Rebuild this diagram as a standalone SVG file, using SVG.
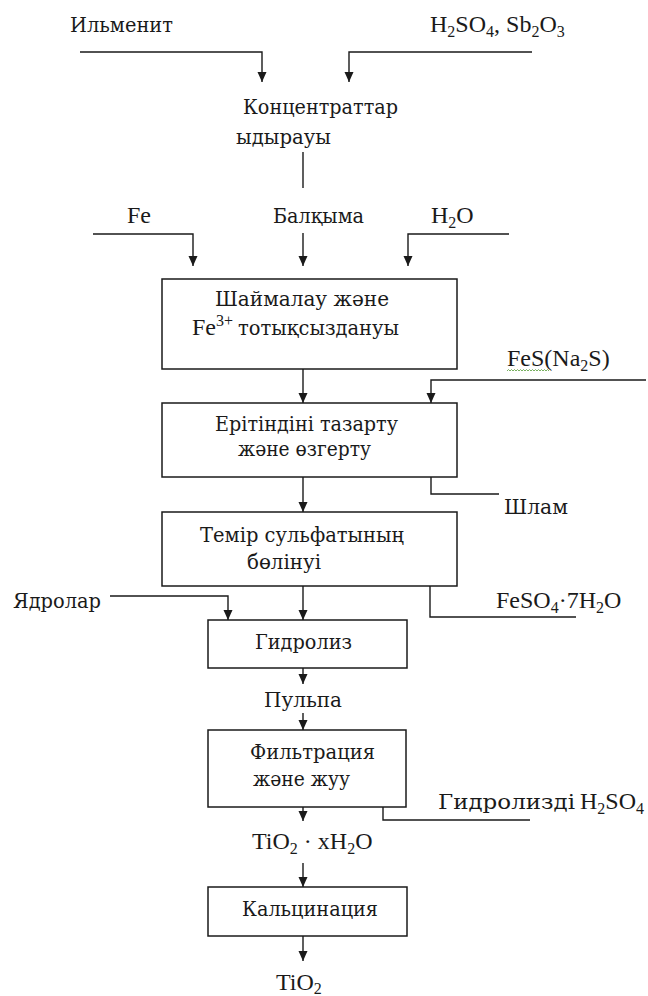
<svg xmlns="http://www.w3.org/2000/svg" width="648" height="996" viewBox="0 0 648 996">
<defs>
<marker id="ah" markerUnits="userSpaceOnUse" markerWidth="10" markerHeight="10" refX="10" refY="4.5" orient="auto">
<path d="M0,0 L10,4.5 L0,9 z" fill="#1a1a1a"/>
</marker>
<style>
text{font-family:"Liberation Serif","Times New Roman",serif;font-size:24px;fill:#1a1a1a}
text.cy{font-family:"DejaVu Serif","Liberation Serif",serif;font-size:21px}
.s{font-size:16px}
.box{fill:#fff;stroke:#1a1a1a;stroke-width:1.5}
.c{fill:none;stroke:#1a1a1a;stroke-width:1.4}
.a{marker-end:url(#ah)}
</style>
</defs>
<rect width="648" height="996" fill="#fff"/>
<g id="connectors">
<path class="c a" d="M80,52 H262 V82"/>
<path class="c a" d="M532,52 H349 V82"/>
<path class="c" d="M303,152 V188"/>
<path class="c a" d="M93,234 H193 V266"/>
<path class="c a" d="M303,233 V266"/>
<path class="c a" d="M509,234 H408 V266"/>
<path class="c a" d="M303,369 V403"/>
<path class="c a" d="M646,380 H431 V403"/>
<path class="c" d="M431,477 V494 H499"/>
<path class="c a" d="M303,477 V512"/>
<path class="c a" d="M303,586 V620"/>
<path class="c a" d="M110,596 H228 V620"/>
<path class="c" d="M430,586 V617 H576"/>
<path class="c a" d="M303,668 V684"/>
<path class="c a" d="M303,713 V730"/>
<path class="c a" d="M303,807 V821"/>
<path class="c" d="M383,807 V820 H530"/>
<path class="c a" d="M303,863 V887"/>
<path class="c a" d="M303,936 V961"/>
</g>
<g id="in-ilmenite"><text class="cy" x="70" y="32" textLength="103" lengthAdjust="spacingAndGlyphs">Ильменит</text></g>
<g id="in-acid"><text x="430" y="32">H<tspan class="s" dy="5">2</tspan><tspan dy="-5">SO</tspan><tspan class="s" dy="5">4</tspan><tspan dy="-5">, Sb</tspan><tspan class="s" dy="5">2</tspan><tspan dy="-5">O</tspan><tspan class="s" dy="5">3</tspan></text></g>
<g id="n-decomp">
<text class="cy" x="243" y="114" textLength="155" lengthAdjust="spacingAndGlyphs">Концентраттар</text>
<text class="cy" x="236" y="144" textLength="95" lengthAdjust="spacingAndGlyphs">ыдырауы</text>
</g>
<g id="in-fe"><text x="127" y="223">Fe</text></g>
<g id="in-melt"><text class="cy" x="273" y="223" textLength="91" lengthAdjust="spacingAndGlyphs">Балқыма</text></g>
<g id="in-water"><text x="431" y="223">H<tspan class="s" dy="5">2</tspan><tspan dy="-5">O</tspan></text></g>
<g id="n-leach">
<rect class="box" x="162" y="279" width="295" height="90"/>
<text class="cy" x="215" y="306" textLength="174" lengthAdjust="spacingAndGlyphs">Шаймалау және</text>
<text x="192" y="335">Fe<tspan class="s" dy="-9">3+</tspan></text>
<text class="cy" x="238" y="335" textLength="161" lengthAdjust="spacingAndGlyphs">тотықсыздануы</text>
</g>
<g id="in-fes">
<text x="507" y="366">FeS(Na<tspan class="s" dy="5">2</tspan><tspan dy="-5">S)</tspan></text>
<path d="M507,371 l1.5,-1.5 l1.5,1.5 l1.5,-1.5 l1.5,1.5 l1.5,-1.5 l1.5,1.5 l1.5,-1.5 l1.5,1.5 l1.5,-1.5 l1.5,1.5 l1.5,-1.5 l1.5,1.5 l1.5,-1.5 l1.5,1.5 l1.5,-1.5 l1.5,1.5 l1.5,-1.5 l1.5,1.5 l1.5,-1.5 l1.5,1.5 l1.5,-1.5 l1.5,1.5 l1.5,-1.5 l1.5,1.5 l1.5,-1.5 l1.5,1.5 l1.5,-1.5 l1.5,1.5" fill="none" stroke="#6aa84f" stroke-width="0.9"/>
</g>
<g id="n-purify">
<rect class="box" x="162" y="403" width="295" height="74"/>
<text class="cy" x="215" y="431" textLength="183" lengthAdjust="spacingAndGlyphs">Ерітіндіні тазарту</text>
<text class="cy" x="238" y="456" textLength="133" lengthAdjust="spacingAndGlyphs">және өзгерту</text>
</g>
<g id="out-sludge"><text class="cy" x="504" y="514" textLength="64" lengthAdjust="spacingAndGlyphs">Шлам</text></g>
<g id="n-sulfate">
<rect class="box" x="162" y="512" width="295" height="74"/>
<text class="cy" x="200" y="542" textLength="204" lengthAdjust="spacingAndGlyphs">Темір сульфатының</text>
<text class="cy" x="247" y="569" textLength="74" lengthAdjust="spacingAndGlyphs">бөлінуі</text>
</g>
<g id="in-nuclei"><text class="cy" x="13" y="608" textLength="88" lengthAdjust="spacingAndGlyphs">Ядролар</text></g>
<g id="out-feso4"><text x="496" y="608">FeSO<tspan class="s" dy="5">4</tspan><tspan dy="-5">·7H</tspan><tspan class="s" dy="5">2</tspan><tspan dy="-5">O</tspan></text></g>
<g id="n-hydrolysis">
<rect class="box" x="208" y="620" width="199" height="48"/>
<text class="cy" x="255" y="649" textLength="97" lengthAdjust="spacingAndGlyphs">Гидролиз</text>
</g>
<g id="pulp"><text class="cy" x="264" y="707" textLength="78" lengthAdjust="spacingAndGlyphs">Пульпа</text></g>
<g id="n-filter">
<rect class="box" x="208" y="730" width="198" height="77"/>
<text class="cy" x="250" y="759" textLength="125" lengthAdjust="spacingAndGlyphs">Фильтрация</text>
<text class="cy" x="253" y="786" textLength="97" lengthAdjust="spacingAndGlyphs">және жуу</text>
</g>
<g id="out-acid">
<text class="cy" x="438" y="809" textLength="137" lengthAdjust="spacingAndGlyphs">Гидролизді</text>
<text x="580" y="809">H<tspan class="s" dy="5">2</tspan><tspan dy="-5">SO</tspan><tspan class="s" dy="5">4</tspan></text>
</g>
<g id="hydrate"><text x="252" y="849">TiO<tspan class="s" dy="5">2</tspan><tspan dy="-5"> · xH</tspan><tspan class="s" dy="5">2</tspan><tspan dy="-5">O</tspan></text></g>
<g id="n-calc">
<rect class="box" x="208" y="887" width="199" height="49"/>
<text class="cy" x="242" y="916" textLength="136" lengthAdjust="spacingAndGlyphs">Кальцинация</text>
</g>
<g id="product"><text x="276" y="990">TiO<tspan class="s" dy="4">2</tspan></text></g>
</svg>
